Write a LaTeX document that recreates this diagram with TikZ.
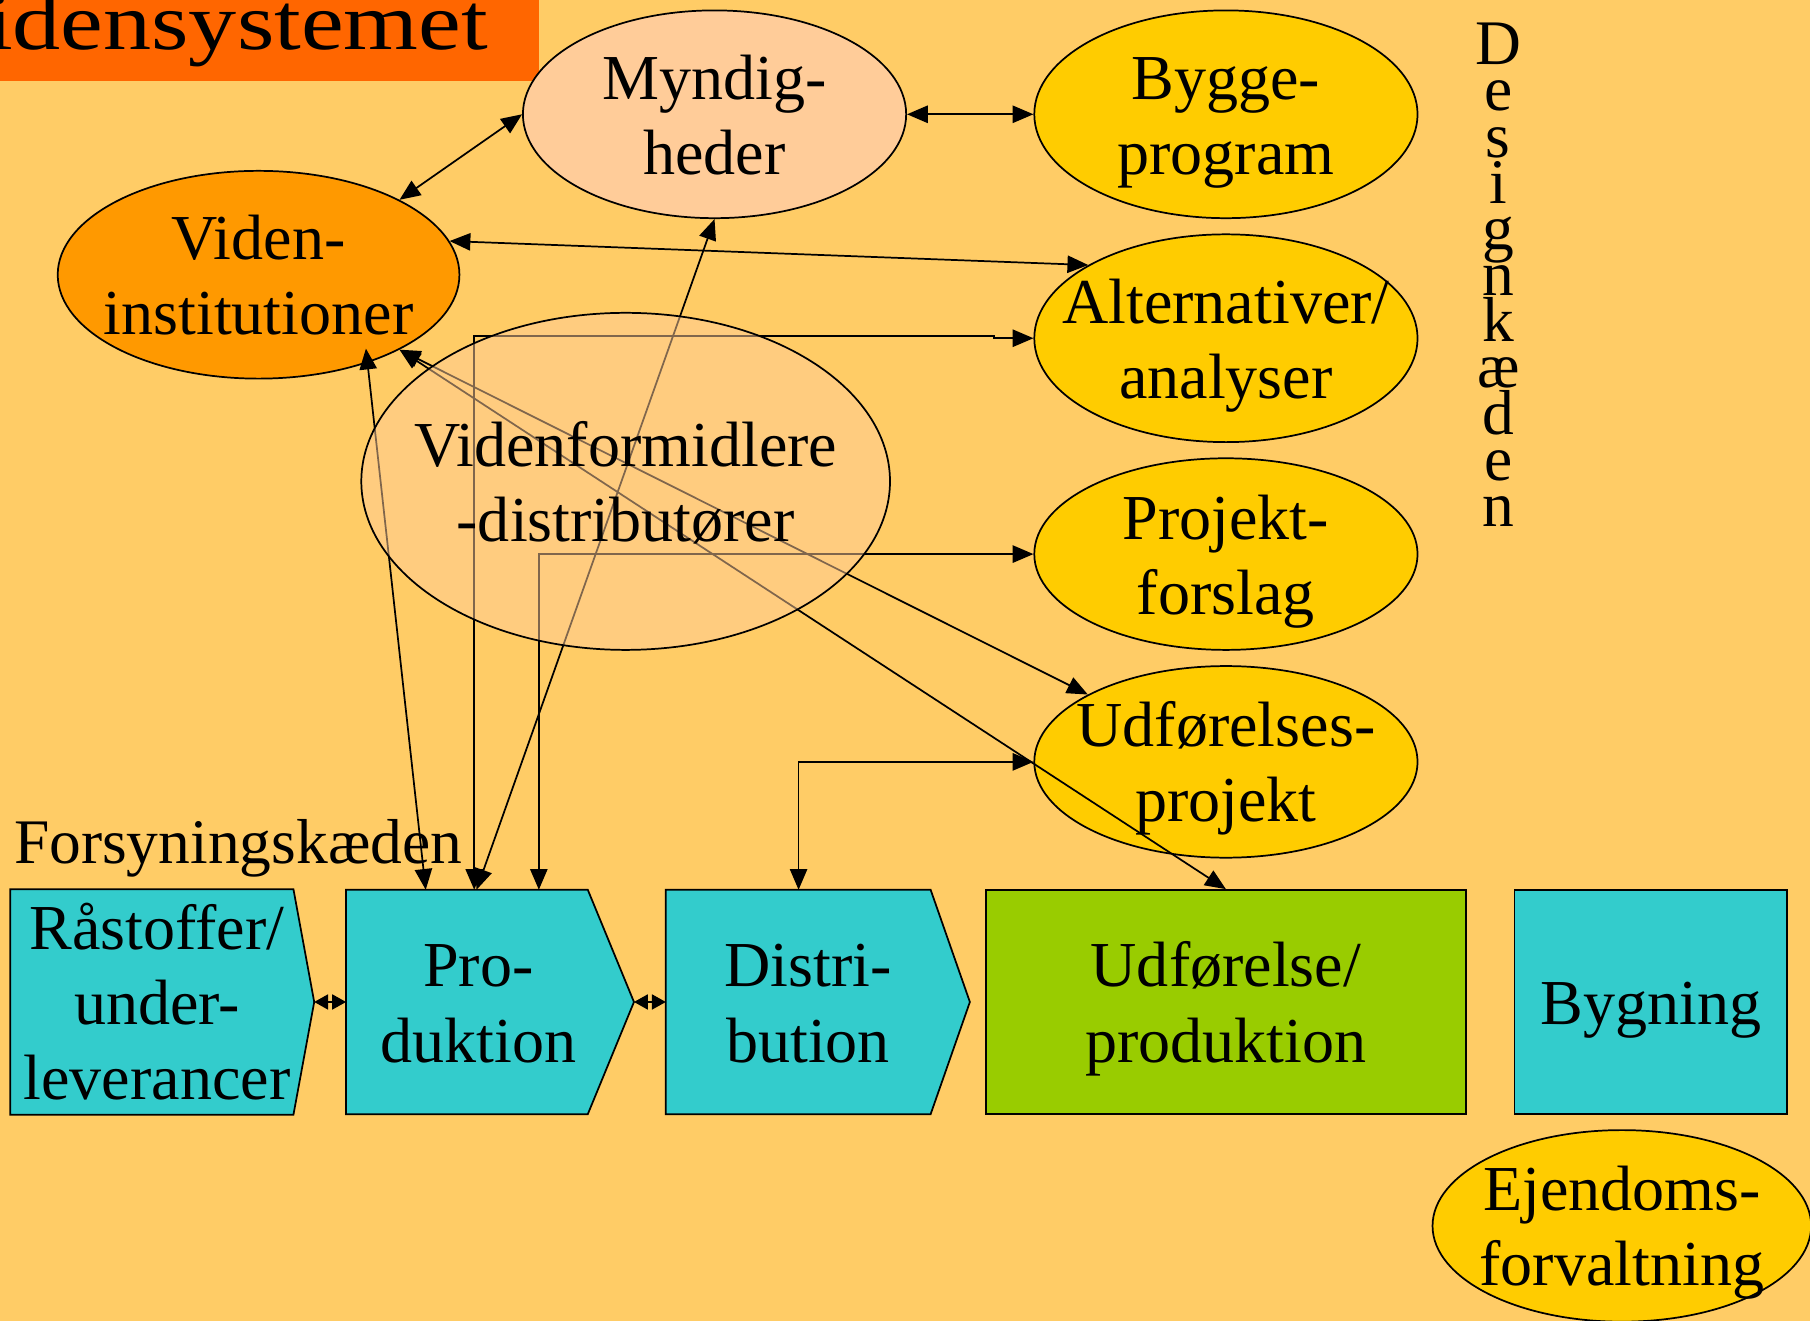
\documentclass[tikz,border=0pt]{standalone}
\usepackage{fontspec}
\setmainfont{Liberation Serif}
\usetikzlibrary{shapes.geometric,arrows.meta,calc}
\definecolor{bgc}{HTML}{FFCC66}
\definecolor{titlec}{HTML}{FF6600}
\definecolor{vidc}{HTML}{FF9900}
\definecolor{myndc}{HTML}{FFCC99}
\definecolor{yelc}{HTML}{FFCC00}
\definecolor{cyanc}{HTML}{33CCCC}
\definecolor{greenc}{HTML}{99CC00}
\newcommand\sst{\rule[-13pt]{0pt}{65pt}}
\pgfdeclarelayer{backlayer}
\pgfsetlayers{backlayer,main}
\tikzset{
  every node/.style={font=\fontsize{55.5}{65}\selectfont, inner sep=0pt},
  ell/.style={ellipse, draw=black, line width=1.5pt, align=center, inner xsep=-70pt, inner ysep=-70pt},
  boxn/.style={rectangle, align=center, minimum height=194pt},
  conn/.style={line width=1.5pt, {Triangle[length=18pt,width=15pt]}-{Triangle[length=18pt,width=15pt]}},
  smallconn/.style={line width=1.5pt, {Triangle[length=12pt,width=13pt]}-{Triangle[length=12pt,width=13pt]}},
  shapeb/.style={draw=black, line width=1.5pt}
}
\begin{document}
\begin{tikzpicture}[x=1pt,y=-1pt]
\useasboundingbox (0,0) rectangle (1568,1144);
\clip (0,0) rectangle (1568,1144);

% title
\node[anchor=base east, font=\fontsize{70}{80}\selectfont] (title) at (423,43) {\scalebox{1.19}[1]{idensystemet}};

% ellipses
\node[ell, fill=myndc, minimum width=332pt, minimum height=180pt] (mynd) at (619,99) {Myndig-\sst\\heder\sst};
\node[ell, fill=yelc, minimum width=332pt, minimum height=180pt] (bygg) at (1062,99) {Bygge-\sst\\program\sst};
\node[ell, fill=vidc, minimum width=348pt, minimum height=180pt] (viden) at (224,238) {Viden-\sst\\institutioner\sst};
\node[ell, fill=yelc, minimum width=332pt, minimum height=180pt] (alt) at (1062,293) {Alternativer/\sst\\analyser\sst};
\node[ell, fill=yelc, minimum width=332pt, minimum height=166pt] (proj) at (1062,480) {Projekt-\sst\\forslag\sst};
\node[ell, fill=yelc, minimum width=332pt, minimum height=166pt] (udfp) at (1062,660) {Udførelses-\sst\\projekt\sst};
\node[ell, fill=yelc, minimum width=328pt, minimum height=166pt] (ejd) at (1405,1062) {Ejendoms-\sst\\forvaltning\sst};

% vertical label
\node[font=\fontsize{55}{40}\selectfont, align=center] (design) at (1298,238) {D\\e\\s\\i\\g\\n\\k\\æ\\d\\e\\n};

% supply chain label
\node[anchor=base west, font=\fontsize{55}{65}\selectfont] (fors) at (12,748) {Forsyningskæden};

% boxes
\node[boxn, minimum width=254pt] (raa) at (136,868) {Råstoffer/\sst\\under-\sst\\leverancer\sst};
\node[boxn, minimum width=229pt] (prod) at (414.5,868) {Pro-\sst\\duktion\sst};
\node[boxn, minimum width=246pt] (dist) at (700,868) {Distri-\sst\\bution\sst};
\node[boxn, fill=greenc, draw=black, line width=1.5pt, minimum width=416pt] (udf) at (1062,868) {Udførelse/\sst\\produktion\sst};
\node[boxn, fill=cyanc, draw=black, line width=1.5pt, minimum width=236pt] (byg) at (1430,868) {Bygning\sst};

\begin{pgfonlayer}{backlayer}
\fill[bgc] (0,0) rectangle (1568,1144);
\fill[titlec] (0,0) rectangle (467,70);
\filldraw[fill=cyanc, shapeb] (raa.north west) -- ([xshift=-9pt]raa.north east) -- ([xshift=9pt]raa.east) -- ([xshift=-9pt]raa.south east) -- (raa.south west) -- cycle;
\filldraw[fill=cyanc, shapeb] (prod.north west) -- ([xshift=-20pt]prod.north east) -- ([xshift=20pt]prod.east) -- ([xshift=-20pt]prod.south east) -- (prod.south west) -- cycle;
\filldraw[fill=cyanc, shapeb] (dist.north west) -- ([xshift=-17pt]dist.north east) -- ([xshift=17pt]dist.east) -- ([xshift=-17pt]dist.south east) -- (dist.south west) -- cycle;
\end{pgfonlayer}

% connectors
\draw[conn] (viden.28) -- (mynd.west);
\draw[conn] (mynd.east) -- (bygg.west);
\draw[conn] (viden.10) -- (alt.152);
\draw[conn] ([xshift=111pt]prod.north west) |- ([shift={(-34,-2)}]alt.west) -- ([xshift=-34pt]alt.west) -- (alt.west);
\draw[conn] ([xshift=113pt]prod.north west) -- (mynd.south);
\draw[conn] ([xshift=69pt]prod.north west) -- ([shift={(93,64)}]viden.center);
\draw[conn] ([xshift=167pt]prod.north west) |- (proj.west);
\draw[conn] (viden.-28) -- (udfp.154);
\draw[conn] (viden.-28) -- (udf.north);
\draw[conn] ([xshift=115pt]dist.north west) |- (udfp.west);
\draw[smallconn] ([xshift=9pt]raa.east) -- (prod.west);
\draw[smallconn] ([xshift=20pt]prod.east) -- (dist.west);

% semi-transparent broker ellipse on top
\node[ell, fill=myndc, fill opacity=0.5, text opacity=1, minimum width=458pt, minimum height=292pt] (vf) at (542,417) {Videnformidlere\sst\\-distributører\sst};
\end{tikzpicture}
\end{document}
